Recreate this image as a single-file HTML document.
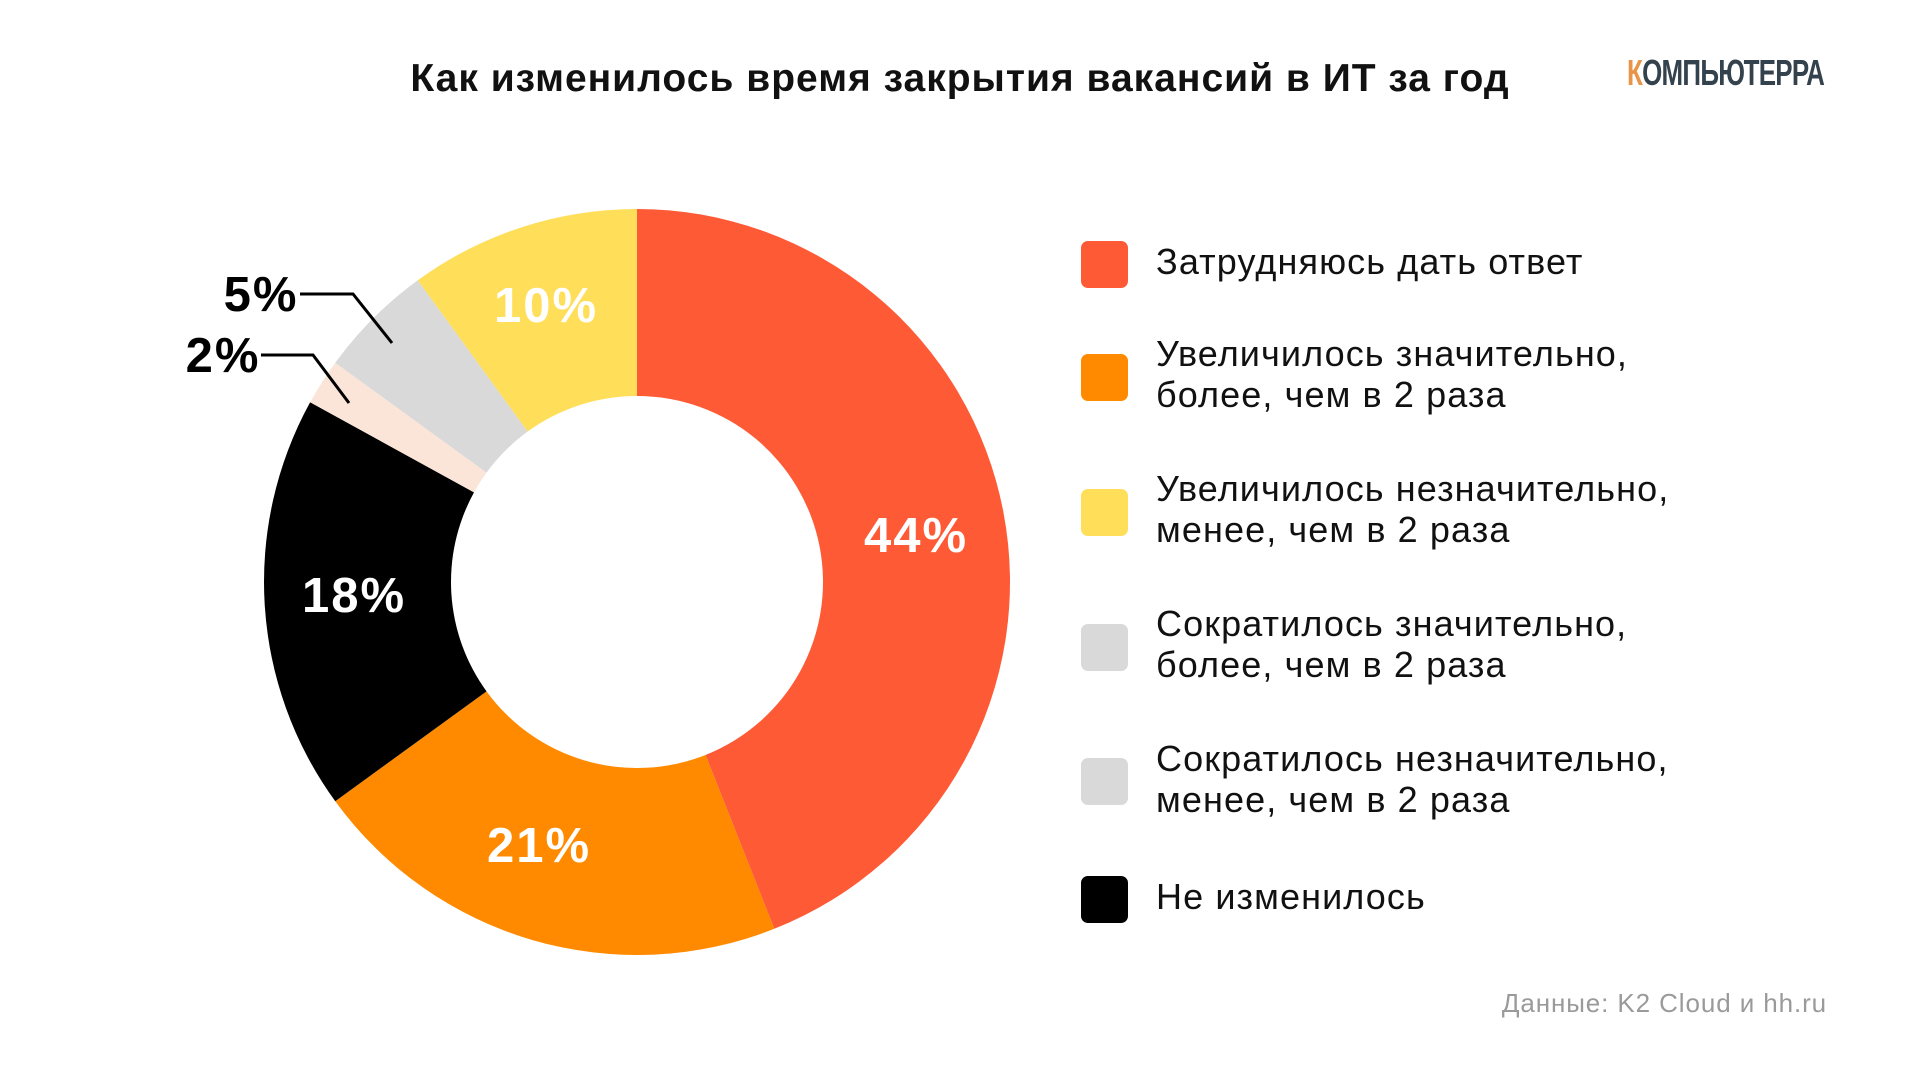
<!DOCTYPE html>
<html><head><meta charset="utf-8"><style>
html,body{margin:0;padding:0;background:#fff;}
body{width:1920px;height:1080px;position:relative;overflow:hidden;font-family:"Liberation Sans","DejaVu Sans",sans-serif;}
.t{position:absolute;white-space:nowrap;}
.sq{position:absolute;left:1081px;width:47px;height:47px;border-radius:7px;}
.lg{position:absolute;left:1156px;font-size:36px;line-height:41px;color:#111;letter-spacing:1.1px;}
</style></head><body>
<div class="t" style="left:0;width:1920px;text-align:center;top:57px;font-size:39px;letter-spacing:1px;font-weight:bold;color:#111;">Как изменилось время закрытия вакансий в ИТ за год</div>
<div class="t" style="left:1627px;top:52px;font-size:36px;font-weight:bold;letter-spacing:-1px;transform:scaleX(0.72);transform-origin:left top;color:#33424d;"><span style="color:#e8954a">К</span>ОМПЬЮТЕРРА</div>
<svg width="1920" height="1080" style="position:absolute;left:0;top:0" id="s">
<g id="g"></g>
<polyline points="300,294 353,294 392,343" fill="none" stroke="#000" stroke-width="3"/>
<polyline points="261,355 313,355 349,403" fill="none" stroke="#000" stroke-width="3"/>
<g font-family="Liberation Sans, sans-serif" font-weight="bold" font-size="49" letter-spacing="2" text-anchor="middle" dominant-baseline="central">
<text x="916" y="536" fill="#fff">44%</text>
<text x="546" y="306" fill="#fff">10%</text>
<text x="354" y="596" fill="#fff">18%</text>
<text x="539" y="846" fill="#fff">21%</text>
<text x="261" y="295" fill="#000">5%</text>
<text x="223" y="356" fill="#000">2%</text>
</g>
</svg>
<div class="sq" style="top:241px;background:#FF5A36"></div>
<div class="lg" style="top:241px">Затрудняюсь дать ответ</div>
<div class="sq" style="top:354px;background:#FF8A00"></div>
<div class="lg" style="top:333px">Увеличилось значительно,<br>более, чем в 2 раза</div>
<div class="sq" style="top:489px;background:#FFDE5A"></div>
<div class="lg" style="top:468px">Увеличилось незначительно,<br>менее, чем в 2 раза</div>
<div class="sq" style="top:624px;background:#D9D9D9"></div>
<div class="lg" style="top:603px">Сократилось значительно,<br>более, чем в 2 раза</div>
<div class="sq" style="top:758px;background:#D9D9D9"></div>
<div class="lg" style="top:738px">Сократилось незначительно,<br>менее, чем в 2 раза</div>
<div class="sq" style="top:876px;background:#000"></div>
<div class="lg" style="top:876px">Не изменилось</div>
<div class="t" style="right:93px;top:988px;font-size:26px;letter-spacing:0.9px;color:#9a9a9a;">Данные: K2 Cloud и hh.ru</div>
<script>
var cx=637,cy=582,R=373,r=186;
var d=[[44,"#FF5A36"],[21,"#FF8A00"],[18,"#000"],[2,"#FBE5D9"],[5,"#D9D9D9"],[10,"#FFDE5A"]];
var a=0,h="";
function p(rad,ang){var t=ang*Math.PI/180;return (cx+rad*Math.sin(t)).toFixed(2)+","+(cy-rad*Math.cos(t)).toFixed(2);}
d.forEach(function(s){var b=a+s[0]*3.6;var l=(b-a)>180?1:0;
h+='<path fill="'+s[1]+'" d="M'+p(R,a)+' A'+R+','+R+' 0 '+l+' 1 '+p(R,b)+' L'+p(r,b)+' A'+r+','+r+' 0 '+l+' 0 '+p(r,a)+' Z"/>';a=b;});
document.getElementById("g").innerHTML=h;
</script>
</body></html>
